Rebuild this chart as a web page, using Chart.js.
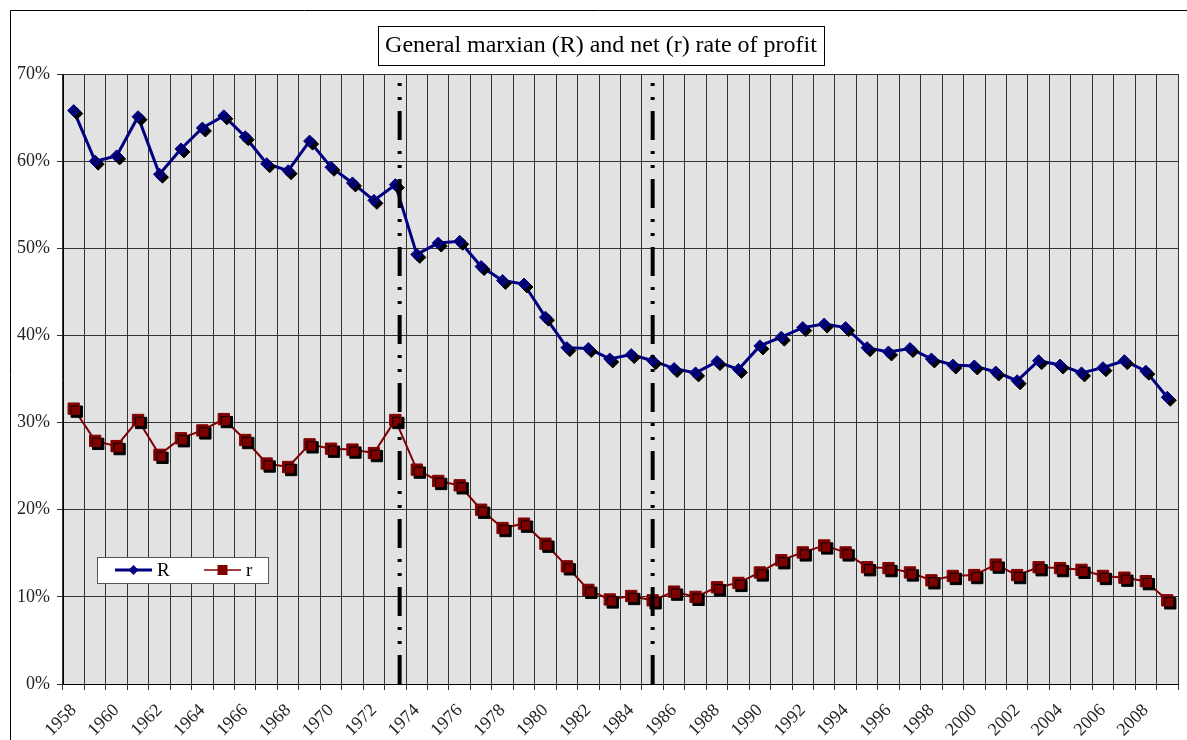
<!DOCTYPE html>
<html>
<head>
<meta charset="utf-8">
<title>General marxian (R) and net (r) rate of profit</title>
<script src="https://cdn.jsdelivr.net/npm/chart.js@4.4.1/dist/chart.umd.min.js"></script>
<style>
  html, body { margin: 0; padding: 0; background: #fff; }
  #wrap { width: 1187px; height: 740px; }
</style>
</head>
<body>
<div id="wrap"><canvas id="profit-chart" width="1187" height="740"></canvas></div>
<script>
// data (percent)
const years = ['1958', '1959', '1960', '1961', '1962', '1963', '1964', '1965', '1966', '1967',
  '1968', '1969', '1970', '1971', '1972', '1973', '1974', '1975', '1976', '1977',
  '1978', '1979', '1980', '1981', '1982', '1983', '1984', '1985', '1986', '1987',
  '1988', '1989', '1990', '1991', '1992', '1993', '1994', '1995', '1996', '1997',
  '1998', '1999', '2000', '2001', '2002', '2003', '2004', '2005', '2006', '2007',
  '2008', '2009'];

const rateR = [65.8, 60.0, 60.6, 65.1, 58.5, 61.4, 63.8, 65.2, 62.8, 59.7,
  58.9, 62.3, 59.3, 57.5, 55.5, 57.3, 49.3, 50.6, 50.8, 47.9,
  46.3, 45.9, 42.1, 38.6, 38.5, 37.3, 37.8, 37.1, 36.2, 35.7,
  37.0, 36.1, 38.8, 39.8, 40.9, 41.3, 40.9, 38.6, 38.1, 38.5,
  37.3, 36.6, 36.5, 35.8, 34.8, 37.1, 36.6, 35.7, 36.3, 37.1,
  35.9, 32.9];

const rateNet = [31.6, 27.9, 27.3, 30.3, 26.3, 28.2, 29.1, 30.4, 28.0, 25.3,
  24.9, 27.5, 27.0, 26.9, 26.5, 30.3, 24.6, 23.3, 22.8, 20.0,
  17.9, 18.4, 16.1, 13.5, 10.8, 9.7, 10.1, 9.6, 10.6, 10.0,
  11.1, 11.6, 12.8, 14.2, 15.1, 15.9, 15.1, 13.4, 13.3, 12.8,
  11.9, 12.4, 12.5, 13.7, 12.5, 13.4, 13.3, 13.1, 12.4, 12.2,
  11.8, 9.6];

const seriesNames = ['R', 'r'];
const breakYears = [1973.2, 1985];
const yMin = 0;
const yMax = 70;
const yStep = 10;
const chartTitle = 'General marxian (R) and net (r) rate of profit';

const navy = '#000080';
const maroon = '#800000';
const serif = "'Liberation Serif', 'Times New Roman', serif";

// vertical dash-dot lines drawn on a hidden linear axis
const breakSets = breakYears.map(yr => ({
  type: 'line',
  xAxisID: 'x2',
  data: [{ x: yr, y: yMin }, { x: yr, y: yMax }],
  borderColor: '#000',
  borderWidth: 4,
  borderDash: [29, 11, 3, 11, 3, 11],
  pointRadius: 0,
  fill: false
}));

const datasets = [
  ...breakSets,
  {
    label: seriesNames[0] + ' markers',
    data: rateR,
    showLine: false,
    pointStyle: 'rectRot',
    pointRadius: 6,
    pointBackgroundColor: navy,
    pointBorderColor: navy,
    pointBorderWidth: 1,
    markerShadow: true,
    clip: false
  },
  {
    label: seriesNames[1] + ' markers',
    data: rateNet,
    showLine: false,
    pointStyle: 'rect',
    pointRadius: 8,
    pointBackgroundColor: maroon,
    pointBorderColor: maroon,
    pointBorderWidth: 1,
    markerShadow: true,
    clip: false
  },
  {
    label: seriesNames[0],
    data: rateR,
    borderColor: navy,
    borderWidth: 3,
    pointRadius: 0,
    tension: 0
  },
  {
    label: seriesNames[1],
    data: rateNet,
    borderColor: maroon,
    borderWidth: 2,
    pointRadius: 0,
    tension: 0
  }
];

// white page, outer frame, grey plot background
const backdrop = {
  id: 'backdrop',
  beforeDraw(chart) {
    const { ctx, chartArea: a } = chart;
    ctx.save();
    ctx.fillStyle = '#fff';
    ctx.fillRect(0, 0, chart.width, chart.height);
    ctx.strokeStyle = '#000';
    ctx.lineWidth = 1;
    ctx.beginPath();
    ctx.moveTo(10.5, chart.height);
    ctx.lineTo(10.5, 10.5);
    ctx.lineTo(chart.width, 10.5);
    ctx.stroke();
    ctx.fillStyle = '#e2e2e2';
    ctx.fillRect(a.left, a.top, a.right - a.left, a.bottom - a.top);
    ctx.restore();
  }
};

// black drop shadow on the markers only
const markerShadow = {
  id: 'markerShadow',
  beforeDatasetDraw(chart, args) {
    if (!chart.data.datasets[args.index].markerShadow) return;
    const ctx = chart.ctx;
    ctx.save();
    ctx.shadowColor = '#000';
    ctx.shadowOffsetX = 3;
    ctx.shadowOffsetY = 3;
    ctx.shadowBlur = 0;
  },
  afterDatasetDraw(chart, args) {
    if (!chart.data.datasets[args.index].markerShadow) return;
    chart.ctx.restore();
  }
};

// boxed title and boxed legend inside the plot
const boxes = {
  id: 'boxes',
  afterDraw(chart) {
    const { ctx, chartArea: a } = chart;
    ctx.save();

    // title
    ctx.font = '24px ' + serif;
    const tw = ctx.measureText(chartTitle).width;
    const cx = 601;
    const bw = tw + 14;
    ctx.fillStyle = '#fff';
    ctx.fillRect(cx - bw / 2, 26, bw, 39);
    ctx.strokeStyle = '#000';
    ctx.lineWidth = 1;
    ctx.strokeRect(Math.round(cx - bw / 2) + 0.5, 26.5, Math.round(bw), 39);
    ctx.fillStyle = '#000';
    ctx.textAlign = 'center';
    ctx.textBaseline = 'middle';
    ctx.fillText(chartTitle, cx, 46);

    // legend
    const lx = a.left + 34, ly = a.top + 483, lw = 171, lh = 26;
    ctx.fillStyle = '#fff';
    ctx.fillRect(lx, ly, lw, lh);
    ctx.strokeStyle = '#555';
    ctx.strokeRect(lx + 0.5, ly + 0.5, lw, lh);
    const my = ly + 13;
    const items = [
      { name: seriesNames[0], color: navy, width: 3, x: lx + 18, style: 'diamond' },
      { name: seriesNames[1], color: maroon, width: 1.5, x: lx + 107, style: 'square' }
    ];
    ctx.font = '19px ' + serif;
    ctx.textAlign = 'left';
    items.forEach(it => {
      ctx.strokeStyle = it.color;
      ctx.lineWidth = it.width;
      ctx.beginPath();
      ctx.moveTo(it.x, my);
      ctx.lineTo(it.x + 37, my);
      ctx.stroke();
      ctx.fillStyle = it.color;
      const px = it.x + 18.5;
      ctx.beginPath();
      if (it.style === 'diamond') {
        ctx.moveTo(px - 5, my);
        ctx.lineTo(px, my - 5);
        ctx.lineTo(px + 5, my);
        ctx.lineTo(px, my + 5);
        ctx.closePath();
        ctx.fill();
      } else {
        ctx.fillRect(px - 5, my - 5, 10, 10);
      }
      ctx.fillStyle = '#000';
      ctx.fillText(it.name, it.x + 42, my + 1);
    });
    ctx.restore();
  }
};

new Chart(document.getElementById('profit-chart'), {
  type: 'line',
  data: { labels: years, datasets: datasets },
  options: {
    responsive: false,
    animation: false,
    devicePixelRatio: 1,
    layout: { padding: { top: 74, right: 9, left: 0, bottom: 0 } },
    plugins: {
      legend: { display: false },
      title: { display: false },
      tooltip: { enabled: false }
    },
    scales: {
      x: {
        type: 'category',
        offset: true,
        grid: { offset: true, color: '#333', lineWidth: 1, tickLength: 6, drawTicks: true },
        border: { color: '#000', width: 1 },
        ticks: {
          autoSkip: false,
          minRotation: 45,
          maxRotation: 45,
          padding: 10,
          color: '#222',
          font: { family: serif, size: 18 },
          callback: function (val, idx) {
            return idx % 2 === 0 ? this.getLabelForValue(val) : '';
          }
        },
        afterFit(scale) {
          scale.height = 56;
          scale.paddingLeft = 0;
          scale.paddingRight = 0;
        }
      },
      x2: {
        type: 'linear',
        display: false,
        min: Number(years[0]) - 0.5,
        max: Number(years[years.length - 1]) + 0.5
      },
      y: {
        min: yMin,
        max: yMax,
        grid: { color: '#333', lineWidth: 1, tickLength: 6 },
        border: { color: '#000', width: 1 },
        ticks: {
          stepSize: yStep,
          padding: 7,
          color: '#222',
          font: { family: serif, size: 18 },
          callback: v => v + '%'
        },
        afterFit(scale) { scale.width = 63; }
      }
    }
  },
  plugins: [backdrop, markerShadow, boxes]
});
</script>
</body>
</html>
